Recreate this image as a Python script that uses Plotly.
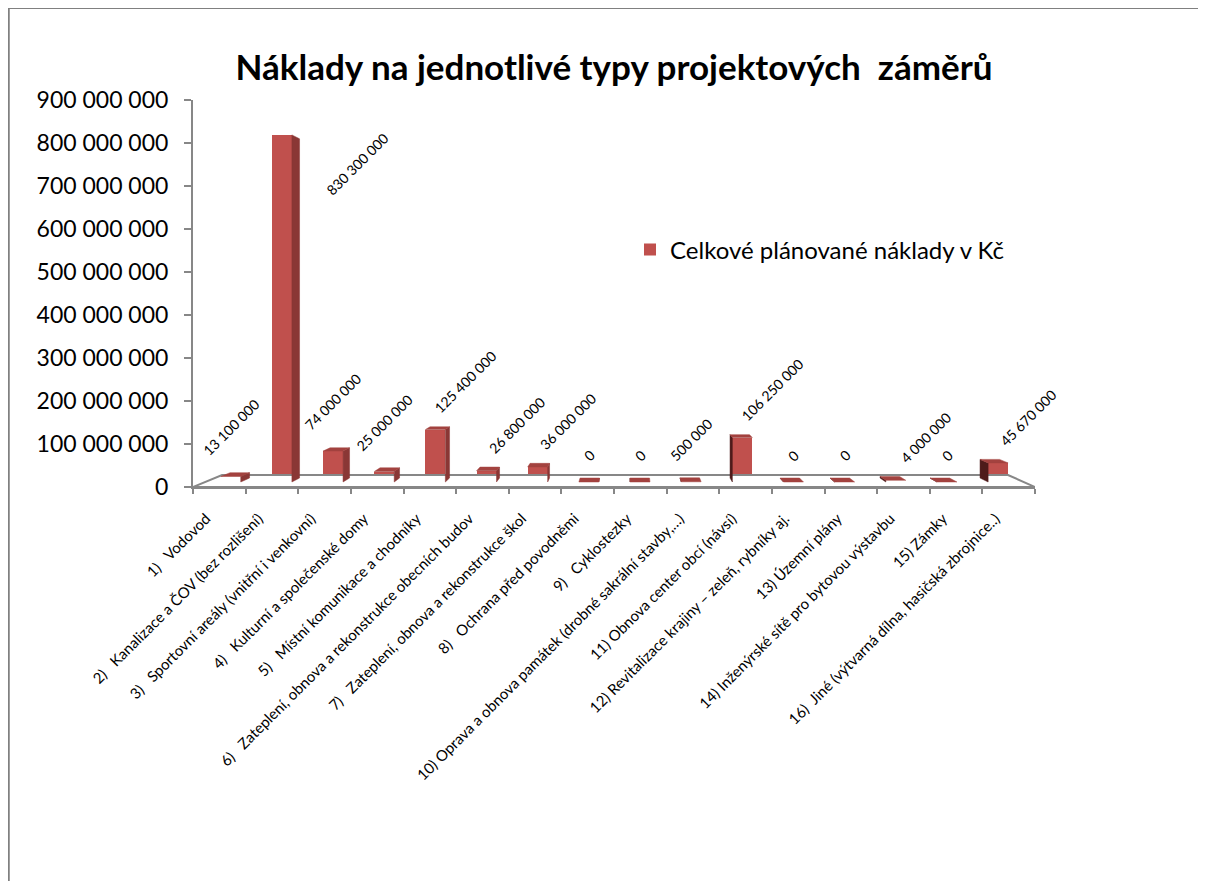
import plotly.graph_objects as go

# --- data -------------------------------------------------------------
categories = [
    "1)\u00a0\u00a0\u00a0Vodovod",
    "2)\u00a0\u00a0\u00a0Kanalizace a ČOV (bez rozlišení)",
    "3)\u00a0\u00a0\u00a0Sportovní areály (vnitřní i venkovní)",
    "4)\u00a0\u00a0\u00a0Kulturní a společenské domy",
    "5)\u00a0\u00a0\u00a0Místní komunikace a chodníky",
    "6)\u00a0\u00a0\u00a0Zateplení, obnova a rekonstrukce obecních budov",
    "7)\u00a0\u00a0\u00a0Zateplení, obnova a rekonstrukce škol",
    "8)\u00a0\u00a0\u00a0Ochrana před povodněmi",
    "9)\u00a0\u00a0\u00a0Cyklostezky",
    "10) Oprava a obnova památek (drobné sakrální stavby,…)",
    "11) Obnova center obcí (návsí)",
    "12) Revitalizace krajiny – zeleň, rybníky aj.",
    "13) Územní plány",
    "14) Inženýrské sítě pro bytovou výstavbu",
    "15) Zámky",
    "16)\u00a0\u00a0Jiné (výtvarná dílna, hasičská zbrojnice..)",
]
costs = [13_100_000, 830_300_000, 74_000_000, 25_000_000, 125_400_000,
         26_800_000, 36_000_000, 0, 0, 500_000, 106_250_000, 0, 0,
         4_000_000, 0, 45_670_000]
series_name = "Celkové plánované náklady v Kč"
title_text = "Náklady na jednotlivé typy projektových\u00a0\u00a0záměrů"
y_max = 900_000_000
y_step = 100_000_000

# --- fake 3D (one-point perspective in data units) --------------------
VX, VY, S = 7.8, 418e6, 0.0665      # vanishing point and depth scale
D1, D2, W = 0.42, 0.75, 0.39        # bar front/back depth and width

FRONT = "#C0504D"
RIGHT = "#8A3735"
LEFT = "#4E1B1A"
TOP = "#A3423F"
AXIS = "#878787"

FW, FH = 1206, 881
OFF = 8  # the page puts the figure 8px in from the window corner


def px(x):
    return (x - OFF) / FW


def py(y):
    return 1 - (y - OFF) / FH


def proj(x, y, d):
    k = 1 - d * S
    return VX + k * (x - VX), VY + k * (y - VY)


def poly(points, xs, ys):
    for p in points:
        xs.append(p[0])
        ys.append(p[1])
    xs.append(points[0][0])
    ys.append(points[0][1])
    xs.append(None)
    ys.append(None)


n = len(categories)
fig = go.Figure()

# floor
fx, fy = [], []
poly([proj(-0.5, 0, 0), proj(n - 0.5, 0, 0), proj(n - 0.5, 0, 1), proj(-0.5, 0, 1)], fx, fy)
fig.add_trace(go.Scatter(x=fx, y=fy, mode="lines", fill="toself", fillcolor="white",
                         line=dict(color=AXIS, width=2), hoverinfo="skip", showlegend=False))

rx, ry, lx, ly, tx, ty = [], [], [], [], [], []
bar_x, bar_w, bar_base, bar_len = [], [], [], []
for i, v in enumerate(costs):
    xl, xr = i - W / 2, i + W / 2
    if i < VX:
        poly([proj(xr, 0, D1), proj(xr, v, D1), proj(xr, v, D2), proj(xr, 0, D2)], rx, ry)
    else:
        poly([proj(xl, 0, D1), proj(xl, v, D1), proj(xl, v, D2), proj(xl, 0, D2)], lx, ly)
    if v < VY:
        poly([proj(xl, v, D1), proj(xr, v, D1), proj(xr, v, D2), proj(xl, v, D2)], tx, ty)
    cx, b = proj(i, 0, D1)
    _, t = proj(i, v, D1)
    bar_x.append(cx)
    bar_w.append(W * (1 - D1 * S))
    bar_base.append(b)
    bar_len.append(t - b)

for xs, ys, col in ((rx, ry, RIGHT), (lx, ly, LEFT), (tx, ty, TOP)):
    fig.add_trace(go.Scatter(x=xs, y=ys, mode="lines", fill="toself", fillcolor=col,
                             line=dict(color=col, width=0.5), hoverinfo="skip",
                             showlegend=False))

fig.add_trace(go.Bar(x=bar_x, y=bar_len, base=bar_base, width=bar_w, name=series_name,
                     marker=dict(color=FRONT, line=dict(width=0)),
                     customdata=costs, hovertemplate="%{customdata:,}<extra></extra>"))

# data labels
lab_font = dict(family="Lato", size=14, color="black")
for i, v in enumerate(costs):
    txt = f"{v:,}".replace(",", " ")
    top = bar_base[i] + bar_len[i]
    if v > 0.75 * y_max:
        # no room above the bar: put the label beside it
        bx, _ = proj(i + W / 2, v, D2)
        fig.add_annotation(x=bx, y=top, text=txt, textangle=-45, showarrow=False,
                           xanchor="left", yanchor="top", xshift=20, yshift=8, font=lab_font)
    elif i >= 4 and len(txt) >= 9:
        # long labels further right get nudged aside, as Excel did
        fig.add_annotation(x=bar_x[i], y=top, text=txt, textangle=-45, showarrow=False,
                           xanchor="center", yanchor="bottom", xshift=30, yshift=11,
                           font=lab_font)
    else:
        fig.add_annotation(x=bar_x[i], y=top, text=txt, textangle=-45, showarrow=False,
                           xanchor="center", yanchor="bottom", yshift=15, font=lab_font)

fig.update_layout(
    width=FW, height=FH,
    margin=dict(l=0, r=0, t=0, b=0, autoexpand=False),
    paper_bgcolor="white", plot_bgcolor="white",
    separators=". ",
    font=dict(family="Lato", color="black"),
    title=dict(text=title_text, x=px(614), y=py(68), xanchor="center", yanchor="middle",
               font=dict(family="Lato", size=35, color="black", weight="bold")),
    showlegend=True,
    legend=dict(x=px(630), y=py(250), xanchor="left", yanchor="middle",
                font=dict(family="Lato", size=24, color="black"), bgcolor="rgba(0,0,0,0)"),
    bargap=0,
)

fig.update_xaxes(
    domain=[px(193), px(1035)], range=[-0.5, n - 0.5], automargin=False,
    # label anchors sit a little left of the category centre, like the rotated Excel text
    tickmode="array", tickvals=[i - 0.25 for i in range(n)], ticktext=categories,
    tickangle=-45, ticks="", showgrid=False, zeroline=False,
    showline=True, linecolor=AXIS, linewidth=2, ticklabelstandoff=15,
    tickfont=dict(family="Lato", size=15, color="black"),
    minor=dict(tickmode="array", tickvals=[i - 0.5 for i in range(n + 1)],
               ticks="outside", ticklen=5, tickwidth=2, tickcolor=AXIS, showgrid=False),
)
fig.update_yaxes(
    domain=[py(487), py(100)], range=[0, y_max], automargin=False,
    tickmode="linear", tick0=0, dtick=y_step, tickformat=",d",
    ticks="outside", ticklen=7, tickwidth=2, tickcolor=AXIS,
    showline=True, linecolor=AXIS, linewidth=2, showgrid=False, zeroline=False,
    ticklabelstandoff=11,
    tickfont=dict(family="Lato", size=23, color="black"),
)

# page frame
fig.add_shape(type="line", xref="paper", yref="paper", x0=px(8.5), x1=px(8.5),
              y0=0, y1=py(6), line=dict(color="#808080", width=2.5))
fig.add_shape(type="line", xref="paper", yref="paper", x0=px(7), x1=px(1205),
              y0=py(7.5), y1=py(7.5), line=dict(color="#808080", width=3))

fig.write_html("out.html")
